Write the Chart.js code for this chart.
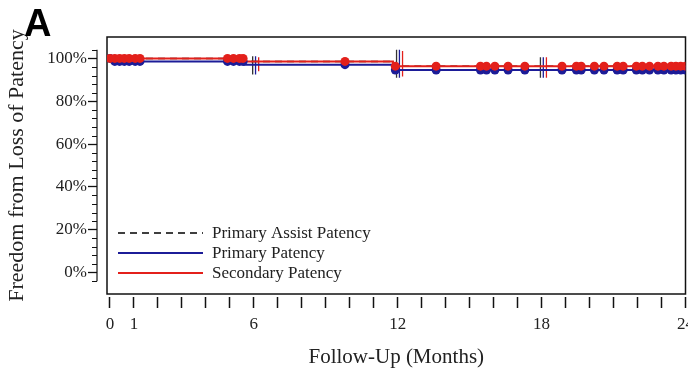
<!DOCTYPE html>
<html>
<head>
<meta charset="utf-8">
<script src="https://cdn.jsdelivr.net/npm/chart.js@4.4.0/dist/chart.umd.min.js"></script>
<style>
  html, body { margin: 0; padding: 0; background: #fff; overflow: hidden; }
  #wrap { position: relative; width: 688px; height: 381px; overflow: hidden; }
  #chart { position: absolute; left: 0; top: 0; }
  #panel { position: absolute; left: 24px; top: 4px; font: bold 38px "Liberation Sans", Arial, sans-serif; line-height: 38px; color: #000; }
</style>
</head>
<body>
<div id="wrap">
  <canvas id="chart" width="700" height="381"></canvas>
  <div id="panel">A</div>
</div>
<script>
// Kaplan-Meier steps (months, % free from loss of patency)
const secondaryTimes = [0, 5.6, 11.8, 24];
const secondaryValues = [100, 98.6, 96.4, 96.4];
const primaryTimes = [0, 0.2, 5.6, 11.8, 24];
const primaryValues = [100, 98.6, 97.1, 94.6, 94.6];
const assistTimes = [0, 5.6, 11.8, 24];
const assistValues = [100, 98.6, 96.4, 96.4];

// censored observations (months)
const censorTimes = [0, 0.2, 0.4, 0.6, 0.8, 1.05, 1.25, 4.9, 5.15, 5.4, 5.55, 9.8, 11.9, 13.6,
  15.45, 15.7, 16.05, 16.6, 17.3, 18.85, 19.45, 19.65, 20.2, 20.6, 21.15, 21.4, 21.95, 22.2,
  22.5, 22.85, 23.1, 23.4, 23.6, 23.8, 24];

// interval marks at 6, 12, 18 months
const ciMonths = [6, 12, 18];
const assistCiLow = [92.5, 91, 91];
const assistCiHigh = [101, 104, 100.5];
const primaryCiLow = [92.5, 91, 91];
const primaryCiHigh = [101, 104, 100.5];
const secondaryCiLow = [94, 91.5, 91];
const secondaryCiHigh = [100.5, 103.5, 100.5];

const xTickValues = [];
for (let m = 0; m <= 24; m++) xTickValues.push(m);
const xTickLabels = ['0', '1', '6', '12', '18', '24'];
const yTickValues = [0, 20, 40, 60, 80, 100];
const yMinorValues = [-4, 4, 8, 12, 16, 24, 28, 32, 36, 44, 48, 52, 56, 64, 68, 72, 76, 84, 88, 92, 96, 104];

const RED = '#e3201b';
const BLUE = '#1c1c98';
const SERIF = '"Liberation Serif", "Times New Roman", serif';

function steps(times, values) {
  return times.map((t, i) => ({ x: t, y: values[i] }));
}

function valueAt(times, values, t) {
  let v = values[0];
  for (let i = 0; i < times.length; i++) {
    if (times[i] <= t) v = values[i];
  }
  return v;
}

function censorPoints(times, values) {
  return censorTimes.map(t => ({ x: t, y: valueAt(times, values, t) }));
}

function ciSegments(shift, low, high) {
  const pts = [];
  ciMonths.forEach((m, i) => {
    pts.push({ x: m + shift, y: low[i] }, { x: m + shift, y: high[i] }, { x: m + shift, y: null });
  });
  return pts;
}

const framePlugin = {
  id: 'frame',
  beforeDatasetsDraw(chart) {
    const { ctx, chartArea: a, scales: { y } } = chart;
    ctx.save();
    ctx.strokeStyle = '#111';
    ctx.lineWidth = 1.5;
    ctx.strokeRect(a.left, a.top, a.right - a.left, a.bottom - a.top);

    // offset y axis line with minor ticks
    const ax = a.left - 10;
    ctx.lineWidth = 1.2;
    ctx.beginPath();
    ctx.moveTo(ax, y.getPixelForValue(104));
    ctx.lineTo(ax, y.getPixelForValue(-4));
    yMinorValues.forEach(v => {
      const py = Math.round(y.getPixelForValue(v)) + 0.5;
      ctx.moveTo(ax - 5, py);
      ctx.lineTo(ax, py);
    });
    ctx.stroke();
    ctx.restore();
  },
  afterDatasetsDraw(chart) {
    const { ctx } = chart;
    const items = chart.data.datasets.filter(d => d.legendRow !== undefined)
      .sort((p, q) => p.legendRow - q.legendRow);
    ctx.save();
    ctx.font = '17px ' + SERIF;
    ctx.textBaseline = 'middle';
    items.forEach((d, i) => {
      const ly = 233 + i * 20;
      ctx.strokeStyle = d.borderColor;
      ctx.lineWidth = d.borderWidth;
      ctx.setLineDash(d.borderDash || []);
      ctx.beginPath();
      ctx.moveTo(118, ly);
      ctx.lineTo(203, ly);
      ctx.stroke();
      ctx.setLineDash([]);
      ctx.fillStyle = '#222';
      ctx.fillText(d.label, 212, ly + 1);
    });
    ctx.restore();
  }
};

new Chart(document.getElementById('chart'), {
  type: 'line',
  data: {
    datasets: [
      { label: 'sec-censor', data: censorPoints(secondaryTimes, secondaryValues), showLine: false,
        pointRadius: 4.5, pointBackgroundColor: RED, pointBorderWidth: 0, borderColor: RED },
      { label: 'pri-censor', data: censorPoints(primaryTimes, primaryValues), showLine: false,
        pointRadius: 4.5, pointBackgroundColor: BLUE, pointBorderWidth: 0, borderColor: BLUE },
      { label: 'Secondary Patency', legendRow: 2, data: steps(secondaryTimes, secondaryValues), stepped: true,
        borderColor: RED, borderWidth: 2, pointRadius: 0 },
      { label: 'Primary Patency', legendRow: 1, data: steps(primaryTimes, primaryValues), stepped: true,
        borderColor: BLUE, borderWidth: 2, pointRadius: 0 },
      { label: 'Primary Assist Patency', legendRow: 0, data: steps(assistTimes, assistValues), stepped: true,
        borderColor: '#000', borderWidth: 1.5, borderDash: [7, 5], pointRadius: 0 },
      { label: 'sec-ci', data: ciSegments(0.2, secondaryCiLow, secondaryCiHigh), borderColor: RED,
        borderWidth: 1.3, pointRadius: 0, spanGaps: false },
      { label: 'pri-ci', data: ciSegments(0.07, primaryCiLow, primaryCiHigh), borderColor: BLUE,
        borderWidth: 1.3, pointRadius: 0, spanGaps: false },
      { label: 'assist-ci', data: ciSegments(-0.05, assistCiLow, assistCiHigh), borderColor: '#333',
        borderWidth: 1.3, pointRadius: 0, spanGaps: false }
    ]
  },
  options: {
    responsive: false,
    animation: false,
    events: [],
    layout: { padding: { top: 37, right: 14, left: 0, bottom: 0 } },
    plugins: { legend: { display: false }, tooltip: { enabled: false } },
    scales: {
      x: {
        type: 'linear',
        min: -0.125,
        max: 24,
        afterBuildTicks: s => { s.ticks = xTickValues.map(v => ({ value: v })); },
        afterFit: s => { s.height = 87; },
        border: { display: false },
        grid: { drawOnChartArea: false, tickLength: 14, tickColor: '#111', tickWidth: 1.5,
          tickBorderDash: [0, 3, 11, 30] },
        ticks: {
          padding: 6,
          color: '#222',
          font: { family: SERIF, size: 17 },
          maxRotation: 0,
          autoSkip: false,
          callback: v => xTickLabels.includes(String(v)) ? String(v) : ''
        },
        title: { display: true, text: 'Follow-Up (Months)', color: '#222',
          font: { family: SERIF, size: 21 }, padding: { top: 0, bottom: 11 } }
      },
      y: {
        min: -10,
        max: 110,
        afterBuildTicks: s => { s.ticks = yTickValues.map(v => ({ value: v })); },
        afterFit: s => { s.width = 107; },
        border: { display: false },
        grid: { drawOnChartArea: false, tickLength: 19, tickColor: '#111', tickWidth: 1.3,
          tickBorderDash: [9, 30] },
        ticks: {
          padding: 1,
          color: '#222',
          font: { family: SERIF, size: 17 },
          callback: v => v + '%'
        },
        title: { display: true, text: 'Freedom from Loss of Patency', color: '#222',
          font: { family: SERIF, size: 22 }, padding: { top: 4, bottom: 0 } }
      }
    }
  },
  plugins: [framePlugin]
});
</script>
</body>
</html>
